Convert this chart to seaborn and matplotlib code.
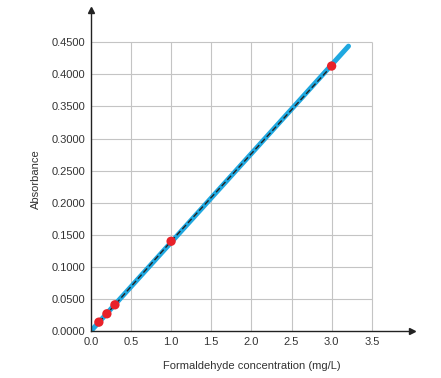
import matplotlib.pyplot as plt
import seaborn as sns
import numpy as np

# calibration data
conc = [0.1, 0.2, 0.3, 1.0, 3.0]
absorb = [0.014, 0.027, 0.041, 0.140, 0.413]

# fitted line end points
fit_x = [0.0, 3.21]
fit_y = [0.0, 0.444]

x_ticks = [0.0, 0.5, 1.0, 1.5, 2.0, 2.5, 3.0, 3.5]
y_ticks = [0.0, 0.05, 0.10, 0.15, 0.20, 0.25, 0.30, 0.35, 0.40, 0.45]

sns.set_style('white')
plt.rcParams['font.family'] = ['Liberation Sans', 'DejaVu Sans']

fig = plt.figure(figsize=(4.41, 3.78), dpi=100)
ax = fig.add_axes([0.206, 0.124, 0.728, 0.849])

# grid only inside tick range
ax.vlines(x_ticks[1:], 0, y_ticks[-1], color='#c4c4c4', lw=0.8, zorder=0)
ax.hlines(y_ticks[1:], 0, x_ticks[-1], color='#c4c4c4', lw=0.8, zorder=0)

sns.lineplot(x=fit_x, y=fit_y, ax=ax, color='#1fa8e0', lw=3.6,
             solid_capstyle='round', zorder=2)
sns.lineplot(x=conc, y=absorb, ax=ax, color='#222222', lw=1.0,
             linestyle=(0, (4, 2)), zorder=3)
sns.scatterplot(x=conc, y=absorb, ax=ax, color='#e8222a', s=45,
                edgecolor='none', zorder=4)

ax.set_xlim(0, 4.0)
ax.set_ylim(0, 0.5)
ax.set_xticks(x_ticks)
ax.set_yticks(y_ticks)
ax.set_xticklabels([f'{v:.1f}' for v in x_ticks])
ax.set_yticklabels([f'{v:.4f}' for v in y_ticks])
ax.tick_params(length=0, labelsize=8, colors='#333333', pad=4)

for s in ['top', 'right']:
    ax.spines[s].set_visible(False)
for s in ['left', 'bottom']:
    ax.spines[s].set_color('#222222')
    ax.spines[s].set_linewidth(1.0)

# arrow heads on the axes
ax.plot(1, 0, '>', color='#222222', ms=4, transform=ax.transAxes, clip_on=False)
ax.plot(0, 1, '^', color='#222222', ms=4, transform=ax.transAxes, clip_on=False)

ax.set_xlabel('Formaldehyde concentration (mg/L)', fontsize=8, color='#333333', labelpad=10)
ax.set_ylabel('Absorbance', fontsize=8, color='#333333', labelpad=8)
ax.yaxis.set_label_coords(-0.155, 0.475)

fig.savefig('out.png', dpi=100)
